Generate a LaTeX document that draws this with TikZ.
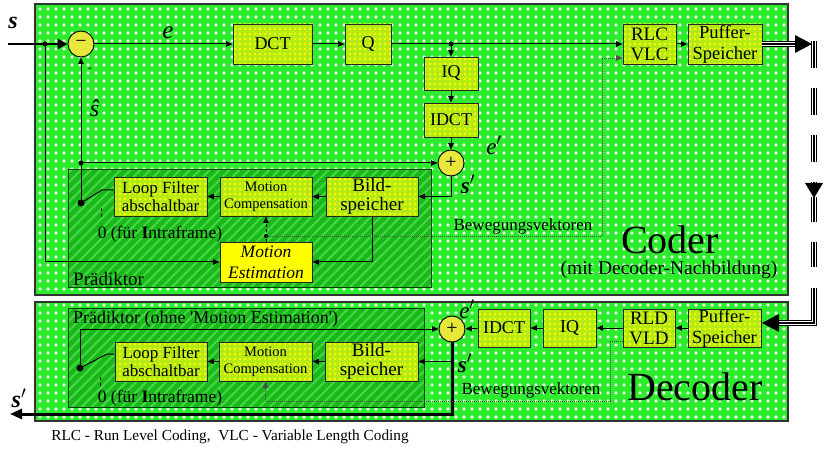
\documentclass[tikz,border=0pt]{standalone}
\usepackage{fontspec}
\setmainfont{Liberation Serif}
\usetikzlibrary{arrows.meta,patterns.meta,calc}
\definecolor{bgG}{RGB}{45,236,45}
\definecolor{predG}{RGB}{25,185,25}
\definecolor{predL}{RGB}{70,215,70}
\definecolor{boxYG}{RGB}{180,235,20}
\definecolor{circY}{RGB}{232,232,60}
\definecolor{meY}{RGB}{255,255,0}
\newcommand{\myfs}[2]{\fontsize{#1}{#2}\selectfont}
\begin{document}
\begin{tikzpicture}[x=1pt,y=-1pt,
  blk/.style={draw=black!85, line width=0.9pt, preaction={fill=boxYG},
    pattern={Dots[distance=5pt,radius=1.3pt]}, pattern color=yellow,
    inner sep=0pt, align=center, font=\myfs{18}{19}},
  mebox/.style={draw=black!85, line width=0.9pt, fill=meY, inner sep=0pt, align=center, font=\myfs{17.5}{21}\itshape},
  sumc/.style={circle, draw=black, line width=0.9pt, fill=circY, minimum size=26pt, inner sep=0pt, font=\myfs{20}{20}},
  dotn/.style={circle, fill=black, inner sep=0pt, minimum size=5pt},
  lbl/.style={inner sep=0pt},
  arr/.style={line width=1pt, -{Triangle[length=6.5pt,width=5.5pt]}},
  ln/.style={line width=1pt},
  dotline/.style={line width=0.8pt, black!70, dash pattern=on 1pt off 1pt},
  triple/.style={line width=6pt, draw=black, #1, postaction={draw=white, line width=3.6pt, #1, postaction={draw=black, line width=1.3pt, #1}}},
  triple/.default={solid}
]
\useasboundingbox (0,0) rectangle (825,449);

% ---------- big containers ----------
\path[preaction={fill=bgG}, pattern={Dots[distance=8pt,radius=1.9pt]}, pattern color=white!85!bgG]
  (35,4) rectangle (788,295);
\draw[black!80, line width=1.2pt] (35,4) rectangle (788,295);
\path[preaction={fill=bgG}, pattern={Dots[distance=8pt,radius=1.9pt]}, pattern color=white!85!bgG]
  (35,302) rectangle (788,421);
\draw[black!80, line width=1.2pt] (35,302) rectangle (788,421);

\path[preaction={fill=predG}, pattern={Lines[angle=45,distance=7pt,line width=2pt]}, pattern color=predL]
  (68,170) rectangle (431,288);
\draw[black!75!green, line width=1pt] (68,170) rectangle (431,288);
\path[preaction={fill=predG}, pattern={Lines[angle=45,distance=7pt,line width=2pt]}, pattern color=predL]
  (68,308) rectangle (424,407);
\draw[black!75!green, line width=1pt] (68,308) rectangle (424,407);

% ---------- coder nodes ----------
\node[sumc] (sub) at (81,44) {−};
\node[blk, minimum width=79pt, minimum height=40pt] (dct) at (272.5,44) {DCT};
\node[blk, minimum width=46pt, minimum height=40pt] (q) at (368,44) {Q};
\node[blk, minimum width=54pt, minimum height=33pt] (iq) at (451,73.5) {IQ};
\node[blk, minimum width=54pt, minimum height=34pt] (idct) at (451,120) {IDCT};
\node[sumc] (add) at (451,163) {+};
\node[blk, minimum width=53pt, minimum height=40pt, font=\myfs{19}{20}] (rlc) at (649.5,44) {RLC\\VLC};
\node[blk, minimum width=74pt, minimum height=40pt, font=\myfs{18.5}{21}] (pufc) at (725,44) {Puffer-\\Speicher};
\node[blk, minimum width=93pt, minimum height=39pt, font=\myfs{17}{18}] (lf) at (160.5,196.5) {Loop Filter\\abschaltbar};
\node[blk, minimum width=92pt, minimum height=39pt, font=\myfs{14.5}{17}] (mc) at (266,196.5) {Motion\\Compensation};
\node[blk, minimum width=92pt, minimum height=39pt, font=\myfs{19}{19}] (bs) at (372,196.5) {Bild-\\speicher};
\node[mebox, minimum width=92pt, minimum height=40pt] (me) at (266,262) {Motion\\Estimation};

\node[dotn] (j1) at (45,44) {};
\node[dotn] (j2) at (451,44) {};
\node[dotn] (j3) at (81,163) {};
\node[dotn, minimum size=7pt] (sw) at (81,203) {};
\node[dotn, minimum size=4pt] (j4) at (266,236) {};

% labels coder
\node[lbl, font=\myfs{24}{24}\bfseries\itshape] (ls) at (13,23) {s};
\node[lbl, font=\myfs{25}{25}\itshape] (le) at (168,33) {e};
\node[lbl, font=\myfs{12}{12}] (lm) at (90,70) {-};
\node[lbl, font=\myfs{24}{24}\itshape] (lsh) at (94.5,108) {ŝ};
\node[lbl, font=\myfs{23}{23}\itshape] (lep) at (494,145) {e$'$};
\node[lbl, font=\myfs{23}{23}\bfseries\itshape] (lsp) at (468,184) {s$'$};
\node[lbl, font=\myfs{17}{17}] (lbv) at (523,226) {Bewegungsvektoren};
\node[lbl, font=\myfs{17.5}{17.5}] (lintra) at (160,234) {0 (für \textbf{I}ntraframe)};
\node[lbl, font=\myfs{19}{19}, anchor=west] (lpr) at (73,279) {Prädiktor};
\node[lbl, font=\myfs{40}{40}] (lcoder) at (670,240) {Coder};
\node[lbl, font=\myfs{19.5}{19.5}] (lmit) at (669,270) {(mit Decoder-Nachbildung)};

% coder connectors
\coordinate (in) at (8,44);
\draw[line width=2.8pt, -{Triangle[length=10pt,width=10pt]}] (in) -- (sub.west);
\draw[arr] (j1.center) |- (me.west);
\draw[arr] (sub) -- (dct);
\draw[arr] (dct) -- (q);
\draw[arr] (q) -- (rlc);
\draw[arr] (j2.center) -- (iq);
\draw[arr] (iq) -- (idct);
\draw[arr] (idct) -- (add);
\draw[arr] (rlc) -- (pufc);
\draw[arr] (sw.center) -- (sub.south);
\draw[arr] (j3.center) -- (add.west);
\draw[arr] (add.south) |- (bs.east);
\draw[arr] (bs) -- (mc);
\draw[arr] (mc) -- (lf);
\coordinate (swa) at (102,190);
\draw[ln] (sw.center) -- (swa) -- (swa -| lf.west);
\coordinate (ct1) at (101,208);
\coordinate (ct2) at (101,219);
\draw[ln, dash pattern=on 3pt off 3pt] (ct1) -- (ct2);
\draw[arr] (bs.south) |- (me.east);
\draw[arr, dash pattern=on 3pt off 2pt] (me.north) -- (mc.south);
\coordinate (dv) at (602,236);
\draw[dotline, -{Triangle[length=6.5pt,width=5.5pt]}] (j4.center) -- (dv) |- ($(rlc.west)+(0,14)$);

% ---------- decoder nodes ----------
\node[sumc] (addd) at (452,329) {+};
\node[blk, minimum width=52pt, minimum height=38pt] (idctd) at (504,328) {IDCT};
\node[blk, minimum width=53pt, minimum height=38pt] (iqd) at (569.5,328) {IQ};
\node[blk, minimum width=52pt, minimum height=38pt, font=\myfs{19}{20}] (rld) at (649,328) {RLD\\VLD};
\node[blk, minimum width=73pt, minimum height=38pt, font=\myfs{18.5}{21}] (pufd) at (724.5,328) {Puffer-\\Speicher};
\node[blk, minimum width=92pt, minimum height=39pt, font=\myfs{17}{18}] (lfd) at (161,361.5) {Loop Filter\\abschaltbar};
\node[blk, minimum width=93pt, minimum height=39pt, font=\myfs{14.5}{17}] (mcd) at (265.5,361.5) {Motion\\Compensation};
\node[blk, minimum width=93pt, minimum height=39pt, font=\myfs{19}{19}] (bsd) at (371.5,361.5) {Bild-\\speicher};
\node[dotn, minimum size=7pt] (swd) at (80,368) {};

\node[lbl, font=\myfs{18}{18}, anchor=west] (lprd) at (73,319) {Prädiktor (ohne \textquotesingle Motion Estimation\textquotesingle)};
\node[lbl, font=\myfs{23}{23}\itshape] (lepd) at (467,309) {e$'$};
\node[lbl, font=\myfs{23}{23}\bfseries\itshape] (lspd) at (465,363) {s$'$};
\node[lbl, font=\myfs{24}{24}\bfseries\itshape] (lsout) at (19,398) {s$'$};
\node[lbl, font=\myfs{17}{17}] (lbvd) at (531,390) {Bewegungsvektoren};
\node[lbl, font=\myfs{17.5}{17.5}] (lintrad) at (160,398) {0 (für \textbf{I}ntraframe)};
\node[lbl, font=\myfs{40}{40}] (ldecoder) at (695,387) {Decoder};
\node[lbl, font=\myfs{15.3}{15.3}] (lfoot) at (230,437) {RLC - Run Level Coding,\ \ VLC - Variable Length Coding};

% decoder connectors
\draw[arr] (pufd) -- (rld);
\draw[arr] (rld) -- (iqd);
\draw[arr] (iqd) -- (idctd);
\draw[arr] (idctd) -- (addd);
\draw[arr] (swd.center) |- (addd.west);
\coordinate (swb) at (107,354);
\draw[ln] (swd.center) -- (swb) -- (swb -| lfd.west);
\coordinate (ct3) at (100,377);
\coordinate (ct4) at (100,388);
\draw[ln, dash pattern=on 3pt off 3pt] (ct3) -- (ct4);
\coordinate (sout) at (10,414);
\draw[line width=3pt, -{Triangle[length=12pt,width=10pt]}] (addd.south) |- (sout);
\draw[arr] (addd.south |- bsd.east) -- (bsd.east);
\draw[arr] (bsd) -- (mcd);
\draw[arr] (mcd) -- (lfd);
\coordinate (dd1) at (610,341);
\coordinate (dd2) at (610,401);
\draw[dotline, -{Triangle[length=6.5pt,width=5.5pt]}] (rld.west |- dd1) -- (dd1) -- (dd2) -| (mcd.south);

% ---------- channel ----------
\coordinate (ch0) at (797,44);
\draw[triple] (pufc.east) -- (ch0);
\fill (795,35) -- (812,44) -- (795,53) -- cycle;
\draw[triple={dash pattern=on 27pt off 20pt}] (814,41) -- (814,183);
\fill (805,183) -- (823,183) -- (814,198) -- cycle;
\draw[triple={dash pattern=on 25pt off 20pt}] (814,197) -- (814,268);
\coordinate (ch1) at (777,323);
\draw[triple] (814,288) -- (814,323) -- (ch1);
\fill (779,314) -- (762,323) -- (779,332) -- cycle;
\end{tikzpicture}
\end{document}
